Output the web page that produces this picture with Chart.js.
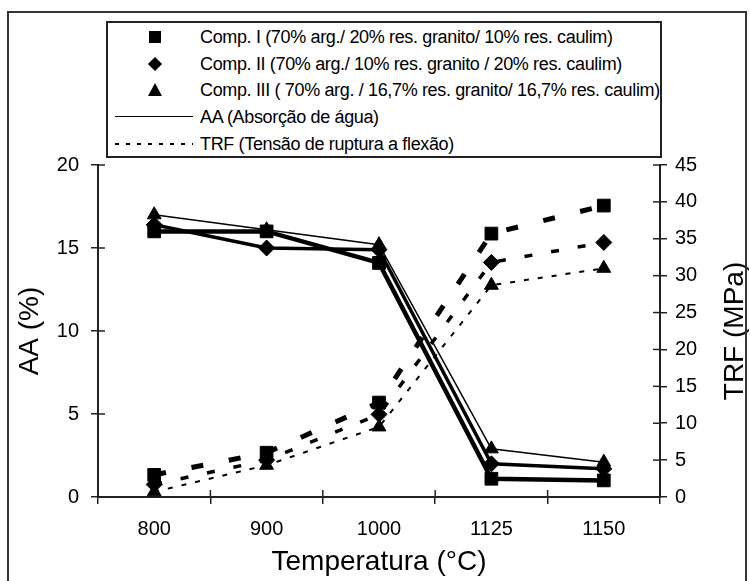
<!DOCTYPE html>
<html>
<head>
<meta charset="utf-8">
<script src="https://cdn.jsdelivr.net/npm/chart.js@4.4.1/dist/chart.umd.min.js"></script>
<style>
html,body{margin:0;padding:0;background:#fff;}
#wrap{position:relative;width:750px;height:581px;overflow:hidden;background:#fff;}
#frame{position:absolute;left:7px;top:11px;width:740px;height:620px;border:2px solid #333;box-sizing:border-box;}
#c{position:absolute;left:0;top:0;}
#legend{position:absolute;left:106px;top:21px;width:556px;height:137px;border:2px solid #222;box-sizing:border-box;background:#fff;font-family:"Liberation Sans",Arial,sans-serif;font-size:18px;letter-spacing:-0.35px;color:#000;}
.lrow{position:absolute;left:0;width:100%;height:26px;}
.ltext{position:absolute;left:92px;top:0;line-height:26px;white-space:nowrap;}
.lsq{position:absolute;left:41px;top:7px;width:12px;height:12px;background:#000;}
.ldi{position:absolute;left:42px;top:8px;width:10px;height:10px;background:#000;transform:rotate(45deg);}
.ltri{position:absolute;left:40px;top:6px;width:0;height:0;border-left:7px solid transparent;border-right:7px solid transparent;border-bottom:13px solid #000;}
.lsolid{position:absolute;left:7px;top:12px;width:78px;height:0;border-top:1.5px solid #000;}
.ldot{position:absolute;left:7px;top:12px;width:78px;height:2px;background:repeating-linear-gradient(to right,#000 0px,#000 4px,transparent 4px,transparent 11px);}
</style>
</head>
<body>
<div id="wrap">
  <canvas id="c" width="750" height="581"></canvas>
  <div id="frame"></div>
  <div id="legend"></div>
</div>
<script>
// ---- data ----
const categories = ['800', '900', '1000', '1125', '1150'];
const aaComp1 = [16.0, 16.0, 14.1, 1.1, 1.0];
const aaComp2 = [16.4, 15.0, 14.9, 2.0, 1.7];
const aaComp3 = [17.0, 16.1, 15.2, 2.9, 2.1];
const trfComp1 = [3.0, 6.0, 12.8, 35.7, 39.5];
const trfComp2 = [1.7, 5.0, 11.2, 31.8, 34.5];
const trfComp3 = [0.7, 4.3, 9.5, 28.7, 31.0];
const leftTicks = [0, 5, 10, 15, 20];
const rightTicks = [0, 5, 10, 15, 20, 25, 30, 35, 40, 45];
const xTitle = 'Temperatura (°C)';
const leftTitle = 'AA (%)';
const rightTitle = 'TRF (MPa)';
const compLabels = [
  'Comp. I (70% arg./ 20% res. granito/ 10% res. caulim)',
  'Comp. II (70% arg./ 10% res. granito / 20% res. caulim)',
  'Comp. III ( 70% arg. / 16,7% res. granito/ 16,7% res. caulim)'
];
const lineLabels = ['AA (Absorção de água)', 'TRF (Tensão de ruptura a flexão)'];

// ---- legend (HTML) ----
const legendEl = document.getElementById('legend');
const rowTops = [1, 27.5, 54, 81, 107.5];
const markerCls = ['lsq', 'ldi', 'ltri'];
const entries = compLabels.map((t, i) => ({text: t, cls: markerCls[i]}))
  .concat(lineLabels.map((t, i) => ({text: t, cls: i === 0 ? 'lsolid' : 'ldot'})));
entries.forEach((e, i) => {
  const row = document.createElement('div');
  row.className = 'lrow';
  row.style.top = rowTops[i] + 'px';
  const m = document.createElement('div');
  m.className = e.cls;
  const t = document.createElement('div');
  t.className = 'ltext';
  t.textContent = e.text;
  row.appendChild(m); row.appendChild(t);
  legendEl.appendChild(row);
});

// ---- chart ----
const FONT = "'Liberation Sans', Arial, sans-serif";
Chart.defaults.font.family = FONT;
Chart.defaults.color = '#000';
const AXIS = '#222';

const innerTicks = {
  id: 'innerTicks',
  afterDraw(chart) {
    const ctx = chart.ctx;
    const x = chart.scales.x, y = chart.scales.y, y1 = chart.scales.y1;
    ctx.save();
    ctx.strokeStyle = AXIS;
    ctx.lineWidth = 1.5;
    y.ticks.forEach(t => {
      const p = y.getPixelForValue(t.value);
      ctx.beginPath(); ctx.moveTo(y.right, p); ctx.lineTo(y.right + 7, p); ctx.stroke();
    });
    y1.ticks.forEach(t => {
      const p = y1.getPixelForValue(t.value);
      ctx.beginPath(); ctx.moveTo(y1.left - 7, p); ctx.lineTo(y1.left, p); ctx.stroke();
    });
    for (let i = 0; i <= categories.length; i++) {
      const p = x.getPixelForValue(i - 0.5);
      ctx.beginPath(); ctx.moveTo(p, x.top - 7); ctx.lineTo(p, x.top); ctx.stroke();
    }
    // right axis title, reading bottom-to-top
    const ca = chart.chartArea;
    ctx.fillStyle = '#000';
    ctx.font = '28px ' + FONT;
    ctx.textAlign = 'center';
    ctx.textBaseline = 'middle';
    ctx.translate(y1.right - 15, (ca.top + ca.bottom) / 2);
    ctx.rotate(-Math.PI / 2);
    ctx.fillText(rightTitle, 0, 0);
    ctx.restore();
  }
};

function aaSet(data, style, radius, width) {
  return {data, yAxisID: 'y', borderColor: '#000', backgroundColor: '#000', borderWidth: width,
    pointStyle: style, pointRadius: radius, pointBorderWidth: 1, pointBorderColor: '#000',
    pointBackgroundColor: '#000', tension: 0, fill: false};
}
function trfSet(data, style, radius, width, dash) {
  return {data, yAxisID: 'y1', borderColor: '#000', backgroundColor: '#000', borderWidth: width,
    borderDash: dash, borderCapStyle: 'butt', pointStyle: style, pointRadius: radius, pointBorderWidth: 1,
    pointBorderColor: '#000', pointBackgroundColor: '#000', tension: 0, fill: false};
}

const tickGrid = {display: true, drawOnChartArea: false, drawTicks: true, tickLength: 7, color: AXIS, lineWidth: 1.5};

new Chart(document.getElementById('c'), {
  type: 'line',
  data: {
    labels: categories,
    datasets: [
      aaSet(aaComp1, 'rect', 9, 4.5),
      aaSet(aaComp2, 'rectRot', 8, 3.5),
      aaSet(aaComp3, 'triangle', 8, 1.5),
      trfSet(trfComp1, 'rect', 9, 5, [12, 26]),
      trfSet(trfComp2, 'rectRot', 8, 3.5, [8, 19]),
      trfSet(trfComp3, 'triangle', 8, 2, [5, 9])
    ]
  },
  options: {
    responsive: false,
    devicePixelRatio: 1,
    animation: false,
    events: [],
    layout: {padding: {top: 165, left: 0, right: 0, bottom: 0}},
    plugins: {legend: {display: false}, tooltip: {enabled: false}, title: {display: false}},
    scales: {
      x: {
        type: 'category',
        offset: true,
        grid: Object.assign({}, tickGrid, {offset: true}),
        border: {display: true, color: AXIS, width: 2},
        ticks: {padding: 13, font: {size: 20}, color: '#000', maxRotation: 0, autoSkip: false},
        title: {display: true, text: xTitle, font: {size: 28}, color: '#000', padding: {top: 0, bottom: 2}},
        afterFit: s => { s.height = 84; }
      },
      y: {
        position: 'left',
        min: 0, max: 20,
        afterBuildTicks: s => { s.ticks = leftTicks.map(v => ({value: v})); },
        grid: tickGrid,
        border: {display: true, color: AXIS, width: 2},
        ticks: {padding: 12, font: {size: 20}, color: '#000'},
        title: {display: true, text: leftTitle, font: {size: 28}, color: '#000', padding: {top: 13, bottom: 0}},
        afterFit: s => { s.width = 98; }
      },
      y1: {
        position: 'right',
        min: 0, max: 45,
        afterBuildTicks: s => { s.ticks = rightTicks.map(v => ({value: v})); },
        grid: tickGrid,
        border: {display: true, color: AXIS, width: 2},
        ticks: {padding: 8, font: {size: 20}, color: '#000'},
        afterFit: s => { s.width = 90; }
      }
    }
  },
  plugins: [innerTicks]
});
</script>
</body>
</html>
